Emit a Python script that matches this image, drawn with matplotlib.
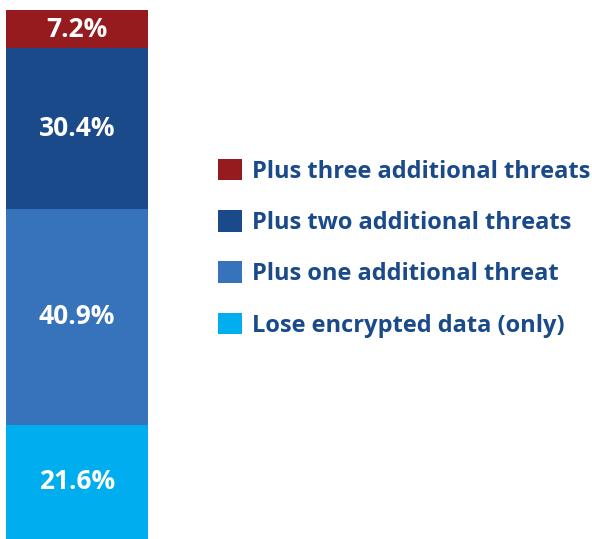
"""Single stacked bar: share of ransomware victims facing additional threats."""

import matplotlib.pyplot as plt
from matplotlib.patches import Patch

# bottom to top
categories = [
    "Lose encrypted data (only)",
    "Plus one additional threat",
    "Plus two additional threats",
    "Plus three additional threats",
]
shares = [21.6, 40.9, 30.4, 7.2]
labels = ["21.6%", "40.9%", "30.4%", "7.2%"]
colors = ["#00AEEF", "#3673BA", "#1B4A8A", "#961B1F"]
text_color = "#1B4A8A"

plt.rcParams["font.family"] = ["Open Sans", "DejaVu Sans"]

fig = plt.figure(figsize=(5.92, 5.39), dpi=100)
ax = fig.add_axes([6 / 592, 0, 142 / 592, 529 / 539])

bottom = 0.0
for share, label, color in zip(shares, labels, colors):
    ax.bar(0, share, bottom=bottom, width=1.0, color=color, linewidth=0)
    ax.text(0, bottom + share / 2, label, ha="center", va="center",
            color="white", fontsize=19, fontweight="bold")
    bottom += share

ax.set_xlim(-0.5, 0.5)
ax.set_ylim(0, sum(shares))
ax.axis("off")

handles = [Patch(facecolor=c, edgecolor="none") for c in colors][::-1]
fig.legend(
    handles, categories[::-1],
    loc="upper left", bbox_to_anchor=(218 / 592, 1 - 159 / 539),
    frameon=False, labelcolor=text_color,
    prop={"weight": "bold", "size": 17},
    handlelength=1.02, handleheight=1.02, handletextpad=0.42,
    labelspacing=1.12, borderpad=0, borderaxespad=0,
)

fig.savefig("out.png", dpi=100)
